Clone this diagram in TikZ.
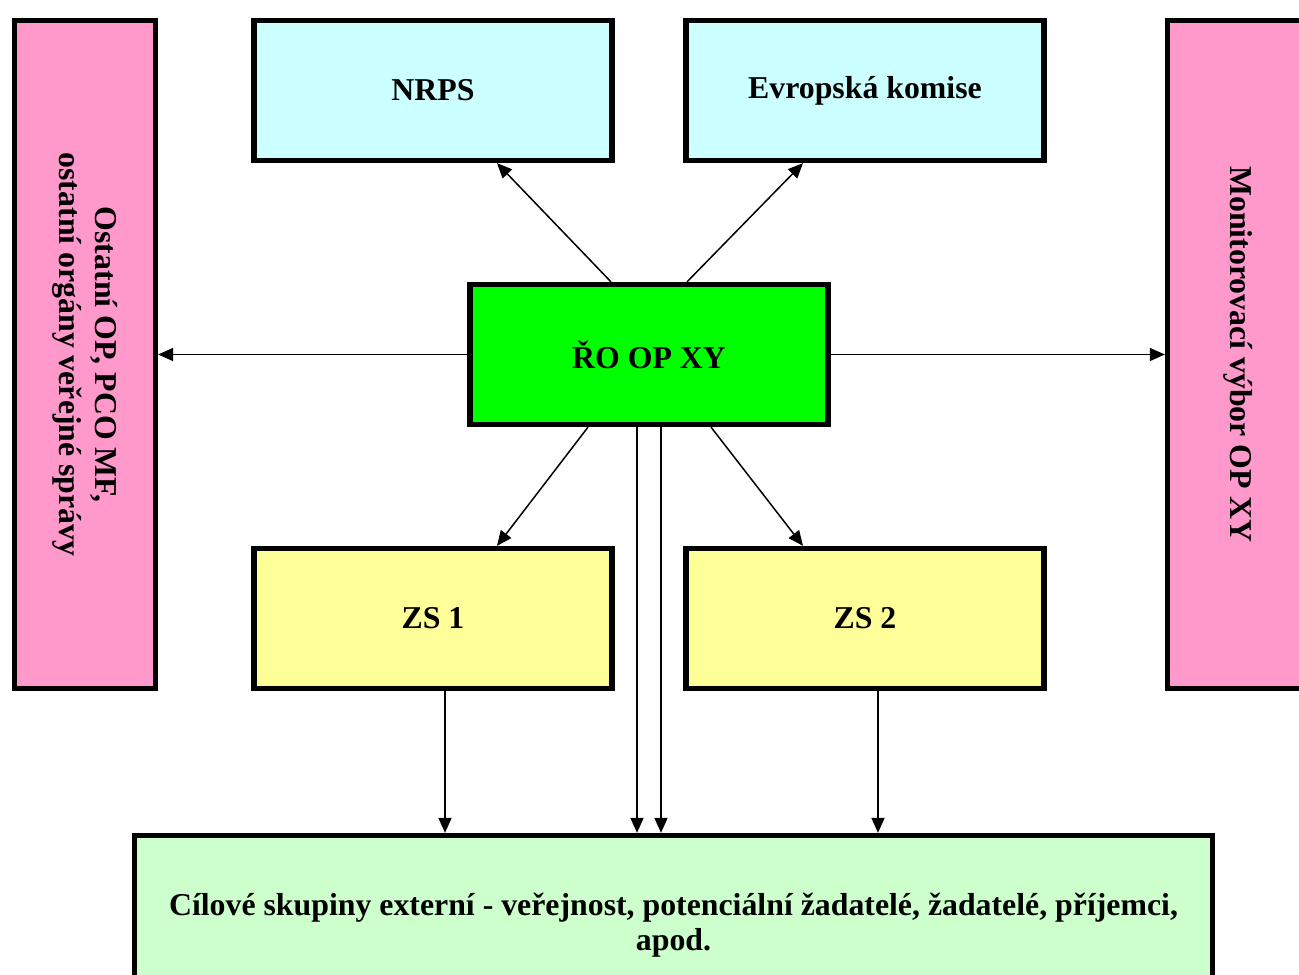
\documentclass[tikz,border=0pt]{standalone}
\usepackage{fontspec}
\setmainfont{Liberation Serif}
\usetikzlibrary{positioning,arrows.meta}
\definecolor{pinkside}{HTML}{FF99CC}
\definecolor{cyanlight}{HTML}{CCFFFF}
\definecolor{yellowlight}{HTML}{FFFF99}
\definecolor{greenlight}{HTML}{CCFFCC}
\tikzstyle{unit}=[draw, line width=3pt, minimum width=7.16cm, minimum height=2.8cm,
    font=\bfseries\fontsize{18.1}{20}\selectfont, align=center]
\tikzstyle{central} = [unit, fill=green]
\tikzstyle{upper} = [unit, fill=cyanlight]
\tikzstyle{lower} = [unit, fill=yellowlight]
\tikzstyle{side} = [unit, fill=pinkside, rotate=-90, minimum width=13.36cm, minimum height=2.82cm]
\tikzstyle{target} = [unit, fill=greenlight, minimum width=21.55cm, minimum height=3.6cm]
\tikzstyle{link} = [->, >={Triangle[length=3mm,width=2.6mm]}, line width=0.85pt]
\def\fanout{0.76}

\begin{document}
\begin{tikzpicture}
    \useasboundingbox (0,0) rectangle (25.98,-19.48);
    \clip (0,0) rectangle (25.98,-19.48);
	% Define the nodes in the picture
    \node (ro) [central] at (12.98,-7.09) {ŘO OP XY};
    \node (nrps) [upper, above of=ro, node distance=5.28cm, xshift=-4.32cm] {NRPS};
    \node (ek) [upper, above of=ro, node distance=5.28cm, xshift=4.32cm] {Evropská komise};
    \node (zs1) [lower, below of=ro, node distance=5.28cm, xshift=-4.32cm] {ZS 1};
    \node (zs2) [lower, below of=ro, node distance=5.28cm, xshift=4.32cm] {ZS 2};
    % side boxes are rotated, so they go at coordinates
    \node (lside) [side] at (1.70,-7.09) {Ostatní OP, PCO MF,\\ostatní orgány veřejné správy};
    \node (rside) [side] at (24.76,-7.09) {Monitorovací výbor OP XY};
    \node (cil) [target, below of=ro, node distance=11.42cm, xshift=0.49cm] {Cílové skupiny externí - veřejnost, potenciální žadatelé, žadatelé, příjemci,\\apod.};

    % Define the edges in the picture
    \draw [link] ([xshift=-\fanout cm]ro.north) -- ([xshift=1.28cm]nrps.south);
    \draw [link] ([xshift=\fanout cm]ro.north) -- ([xshift=-1.24cm]ek.south);
    \draw [link] (ro) -- (lside);
    \draw [link] (ro) -- (rside);
    \draw [link] ([xshift=-1.22cm]ro.south) -- ([xshift=1.28cm]zs1.north);
    \draw [link] ([xshift=1.24cm]ro.south) -- ([xshift=-1.24cm]zs2.north);
    \draw [link] ([xshift=-0.24cm]ro.south) -- ([xshift=-0.24cm]ro.south |- cil.north);
    \draw [link] ([xshift=0.24cm]ro.south) -- ([xshift=0.24cm]ro.south |- cil.north);
    \draw [link] ([xshift=0.24cm]zs1.south) -- ([xshift=0.24cm]zs1.south |- cil.north);
    \draw [link] ([xshift=0.26cm]zs2.south) -- ([xshift=0.26cm]zs2.south |- cil.north);
\end{tikzpicture}
\end{document}
